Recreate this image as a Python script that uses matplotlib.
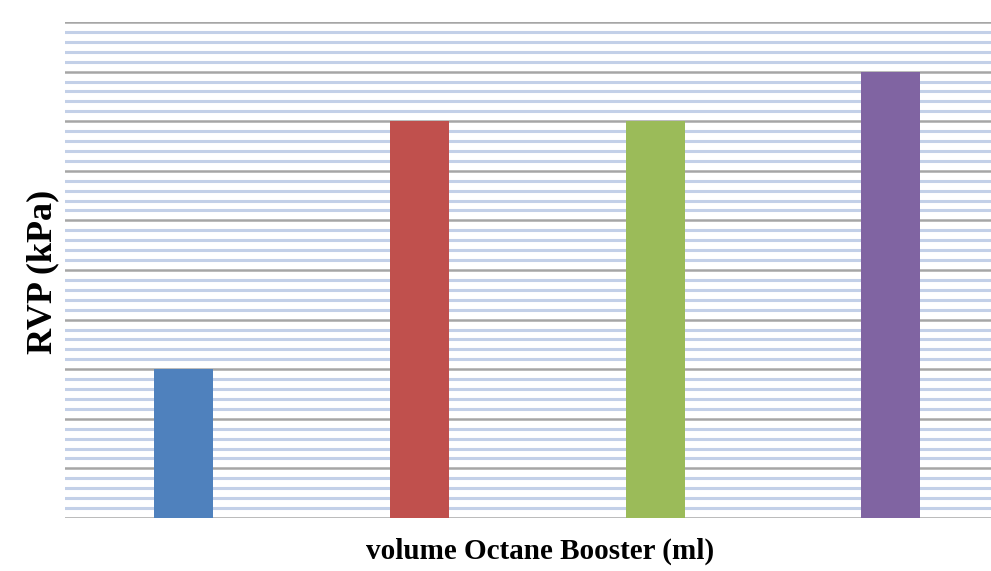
import matplotlib
matplotlib.use("Agg")
import matplotlib.pyplot as plt
from matplotlib.ticker import MultipleLocator

# RVP per dose of octane booster (axis units, no tick labels drawn)
doses = ["0", "1", "2", "3"]
rvp = [3.0, 8.0, 8.0, 9.0]
bar_colors = ["#4f81bd", "#c0504d", "#9bbb59", "#8064a2"]

fig = plt.figure(figsize=(9.91, 5.71), dpi=100)
# right edge runs past the figure so the last category is cut off
ax = fig.add_axes([65 / 991, 53 / 571, 944 / 991, 496 / 571])

x = list(range(len(doses)))
ax.bar(x, rvp, width=0.25, color=bar_colors, zorder=3)

ax.set_xlim(-0.5, 3.5)
ax.set_ylim(0, 10)
ax.yaxis.set_major_locator(MultipleLocator(1))
ax.yaxis.set_minor_locator(MultipleLocator(0.2))
ax.grid(which="major", axis="y", color="#a6a6a6", linewidth=1.8, zorder=1)
ax.grid(which="minor", axis="y", color="#c3d0e8", linewidth=2.2, zorder=0)

ax.tick_params(which="both", left=False, bottom=False,
               labelleft=False, labelbottom=False)
for side in ax.spines.values():
    side.set_visible(False)

font = dict(family="Liberation Serif", fontweight="bold")
fig.text(540 / 991, 1 - 551 / 571, "volume Octane Booster (ml)",
         ha="center", va="center", fontsize=21, **font)
fig.text(43 / 991, 1 - 272 / 571, "RVP (kPa)", rotation=90,
         ha="center", va="center", fontsize=26, **font)

fig.savefig("out.png", dpi=100)
